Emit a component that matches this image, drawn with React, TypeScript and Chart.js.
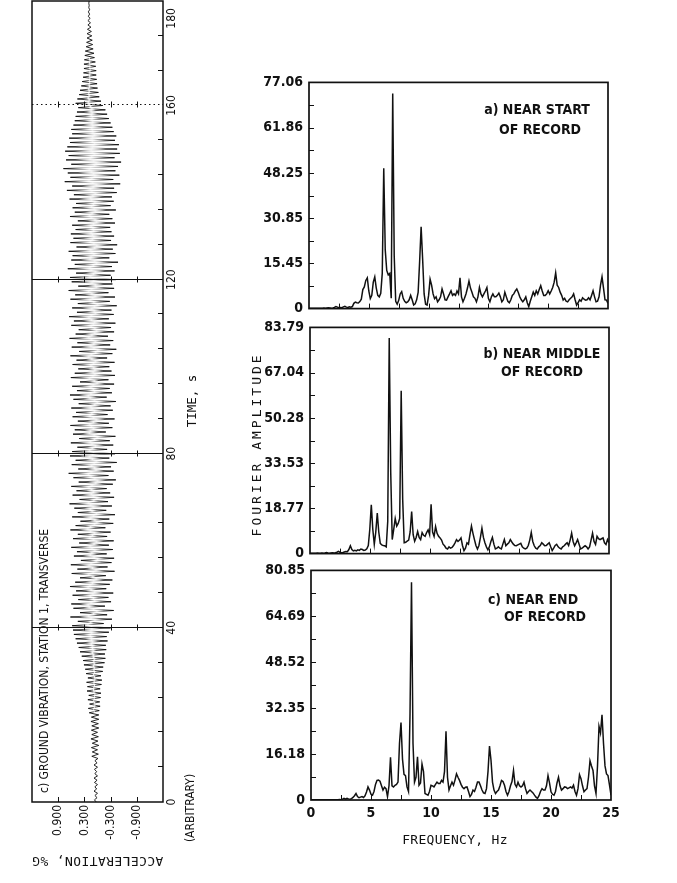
import React, { useEffect, useRef } from "react";
import { Chart, registerables } from "chart.js";

Chart.register(...registerables);

// ---------------- data ----------------
// Ground acceleration time history (%G), one sample every SAMPLE_DT seconds
const SAMPLE_DT = 0.5;
const ACCEL: number[] = [
  0.03, 0.07, 0.01, 0.06, 0.0, 0.08, 0.02, 0.06, 0.0, 0.07, 0.01, 0.08, 0.0, 0.06, 0.02, 0.07, 0.0, 0.08, 0.01, 0.06,
  -0.01, 0.13, -0.02, 0.12, 0.0, 0.14, -0.03, 0.12, -0.01, 0.15, -0.02, 0.13, 0.0, 0.14, -0.03, 0.13, -0.02, 0.15, -0.03, 0.14,
  -0.03, 0.19, -0.04, 0.21, -0.06, 0.18, -0.05, 0.22, -0.07, 0.2, -0.08, 0.24, -0.06, 0.23, -0.09, 0.25, -0.1, 0.22, -0.08, 0.26,
  -0.12, 0.28, -0.13, 0.31, -0.16, 0.33, -0.18, 0.36, -0.17, 0.4, -0.2, 0.43, -0.19, 0.47, -0.23, 0.5, -0.21, 0.54, -0.26, 0.56,
  -0.3, 0.58, -0.14, 0.45, -0.33, 0.62, -0.22, 0.4, -0.37, 0.55, -0.17, 0.6, -0.31, 0.44, -0.25, 0.57, -0.36, 0.49, -0.2, 0.63,
  -0.28, 0.51, -0.34, 0.4, -0.19, 0.59, -0.39, 0.46, -0.23, 0.61, -0.32, 0.38, -0.38, 0.54, -0.21, 0.47, -0.35, 0.6, -0.26, 0.42,
  -0.37, 0.56, -0.22, 0.45, -0.3, 0.62, -0.18, 0.5, -0.36, 0.39, -0.27, 0.58, -0.4, 0.45, -0.2, 0.53, -0.33, 0.64, -0.24, 0.41,
  -0.38, 0.57, -0.29, 0.48, -0.21, 0.6, -0.35, 0.43, -0.42, 0.55, -0.25, 0.66, -0.37, 0.44, -0.31, 0.59, -0.44, 0.5, -0.27, 0.63,
  -0.4, 0.58, -0.22, 0.46, -0.36, 0.61, -0.28, 0.42, -0.41, 0.56, -0.19, 0.52, -0.34, 0.62, -0.26, 0.45, -0.39, 0.57, -0.23, 0.49,
  -0.35, 0.6, -0.3, 0.43, -0.42, 0.55, -0.21, 0.63, -0.33, 0.47, -0.28, 0.58, -0.38, 0.4, -0.25, 0.61, -0.4, 0.52, -0.32, 0.44,
  -0.27, 0.57, -0.39, 0.48, -0.22, 0.62, -0.34, 0.42, -0.43, 0.59, -0.29, 0.46, -0.36, 0.64, -0.24, 0.5, -0.38, 0.43, -0.31, 0.6,
  -0.41, 0.54, -0.26, 0.65, -0.37, 0.47, -0.32, 0.58, -0.44, 0.45, -0.28, 0.62, -0.4, 0.51, -0.25, 0.66, -0.38, 0.44, -0.34, 0.59,
  -0.42, 0.63, -0.3, 0.49, -0.39, 0.68, -0.33, 0.52, -0.47, 0.6, -0.27, 0.57, -0.41, 0.66, -0.35, 0.48, -0.45, 0.62, -0.31, 0.55,
  -0.38, 0.61, -0.32, 0.5, -0.29, 0.58, -0.4, 0.45, -0.34, 0.63, -0.27, 0.52, -0.42, 0.57, -0.3, 0.49, -0.37, 0.64, -0.33, 0.54,
  -0.44, 0.7, -0.38, 0.58, -0.52, 0.75, -0.36, 0.62, -0.5, 0.68, -0.41, 0.78, -0.47, 0.6, -0.54, 0.72, -0.39, 0.66, -0.51, 0.74,
  -0.45, 0.69, -0.49, 0.63, -0.4, 0.65, -0.43, 0.58, -0.37, 0.6, -0.34, 0.55, -0.3, 0.52, -0.26, 0.5, -0.22, 0.47, -0.18, 0.44,
  -0.12, 0.5, -0.08, 0.46, -0.04, 0.42, -0.02, 0.4, 0.0, 0.37, 0.01, 0.35, 0.02, 0.33, 0.03, 0.32, 0.03, 0.31, 0.04, 0.31,
  0.05, 0.3, 0.07, 0.29, 0.08, 0.28, 0.1, 0.26, 0.11, 0.25, 0.12, 0.24, 0.13, 0.24, 0.14, 0.23, 0.15, 0.22, 0.16, 0.22,
  0.17, 0.21, 0.18, 0.21, 0.18, 0.2, 0.19, 0.2, 0.19,
];
const TIME_MAX = 184;
const TIME_LABEL_TICKS = [0, 40, 80, 120, 160, 180];
const TIME_MINOR_TICKS = [8, 16, 24, 32, 48, 56, 64, 72, 88, 96, 104, 112, 128, 136, 144, 152, 168, 176];
const TIME_GRID = [40, 80, 120, 160];
const ACCEL_TICKS = [-0.9, -0.3, 0.3, 0.9];
const ACCEL_LABELS = ["-0.900", "-0.300", "0.300", "0.900"];

// Fourier amplitude spectra, one value every FREQ_STEP Hz from 0 to 25 Hz
const FREQ_STEP = 0.125;
const SPEC_A: number[] = [
  0.1, 0.1, 0.1, 0.1, 0.1, 0.1, 0.1, 0.1,
  0.1, 0.1, 0.2, 0.1, 0.2, 0.3, 0.2, 0.1,
  0.2, 0.4, 0.7, 0.5, 0.3, 0.4, 0.3, 0.6,
  0.8, 0.5, 0.4, 0.6, 0.5, 0.7, 1.8, 2.2,
  2.0, 1.9, 2.4, 3.2, 6.5, 7.4, 9.6, 10.5,
  6.0, 3.4, 4.5, 9.0, 10.8, 7.0, 4.5, 4.0,
  5.2, 12.0, 47.8, 20.0, 13.0, 11.5, 12.0, 3.5,
  73.3, 18.0, 2.5, 1.5, 2.8, 5.0, 5.8, 3.5,
  2.5, 2.0, 2.3, 3.0, 4.5, 3.0, 1.2, 1.6,
  3.0, 5.5, 16.0, 27.9, 17.0, 5.0, 1.5, 1.2,
  4.5, 10.0, 8.0, 5.0, 3.4, 4.0, 2.3, 3.0,
  4.0, 6.7, 5.0, 3.0, 2.9, 4.0, 5.0, 6.1,
  4.5, 5.0, 4.5, 6.0, 5.0, 10.5, 4.0, 2.3,
  3.5, 5.0, 7.0, 9.4, 7.0, 5.6, 4.0, 3.5,
  2.3, 4.0, 7.2, 5.0, 4.0, 5.0, 6.0, 7.2,
  3.5, 2.3, 4.0, 5.0, 4.0, 4.0, 4.5, 5.3,
  4.0, 2.3, 3.0, 5.6, 4.0, 2.5, 2.0, 3.0,
  4.5, 5.0, 6.0, 6.7, 5.5, 4.0, 3.0, 2.3,
  3.0, 4.0, 2.0, 0.7, 2.5, 4.0, 5.6, 4.5,
  6.1, 5.0, 6.5, 7.8, 6.0, 4.5, 4.5, 5.0,
  6.1, 5.0, 6.0, 7.2, 9.0, 12.2, 8.0, 7.2,
  5.6, 4.5, 2.9, 3.5, 2.5, 2.3, 3.0, 3.5,
  4.0, 5.0, 3.0, 1.2, 2.0, 3.0, 2.5, 3.7,
  3.2, 2.9, 3.0, 3.7, 3.0, 4.5, 6.1, 4.0,
  2.3, 2.5, 4.0, 8.0, 10.8, 7.0, 3.0, 2.9,
  1.8,
];
const SPEC_B: number[] = [
  0.1, 0.1, 0.1, 0.1, 0.1, 0.2, 0.1, 0.1,
  0.2, 0.1, 0.2, 0.4, 0.2, 0.1, 0.2, 0.3,
  0.2, 0.3, 0.5, 0.8, 0.5, 0.3, 0.4, 0.6,
  0.8, 0.7, 1.5, 2.9, 1.5, 1.0, 1.2, 1.0,
  1.4, 1.2, 1.7, 1.5, 1.2, 1.3, 1.8, 3.0,
  9.0, 18.1, 9.0, 3.4, 8.0, 15.0, 8.0, 3.8,
  3.2, 3.0, 2.9, 2.5, 12.0, 79.9, 30.0, 5.2,
  9.0, 13.0, 10.2, 11.2, 13.0, 60.3, 20.0, 4.0,
  4.2, 4.6, 5.0, 8.0, 15.6, 7.0, 4.6, 6.0,
  8.2, 6.0, 5.2, 7.8, 6.8, 6.4, 7.8, 8.8,
  7.0, 18.3, 8.0, 6.4, 10.0, 7.5, 6.4, 5.8,
  5.0, 3.5, 2.9, 2.0, 1.7, 2.5, 2.0, 2.3,
  3.0, 4.0, 5.2, 4.5, 5.0, 5.8, 3.0, 1.1,
  2.0, 4.0, 3.5, 7.0, 10.2, 7.5, 5.2, 3.0,
  1.7, 3.0, 6.0, 9.4, 6.0, 4.0, 2.5, 1.4,
  2.5, 4.5, 6.0, 3.5, 1.7, 2.0, 2.5, 2.0,
  1.7, 3.5, 5.2, 2.9, 3.5, 4.0, 5.2, 4.3,
  3.5, 3.0, 2.9, 3.2, 3.5, 3.8, 2.5, 2.0,
  1.7, 2.0, 3.0, 5.0, 7.8, 4.5, 2.9, 2.0,
  1.7, 2.5, 3.0, 4.0, 3.5, 2.9, 3.0, 3.5,
  4.0, 2.5, 1.1, 2.0, 3.0, 3.4, 2.5, 2.0,
  1.7, 2.5, 2.9, 3.5, 4.0, 3.0, 5.0, 7.6,
  4.5, 2.9, 4.0, 5.2, 3.5, 1.7, 2.0, 2.5,
  2.9, 2.5, 1.7, 2.5, 5.0, 7.6, 4.5, 3.4,
  6.4, 5.5, 5.2, 5.5, 5.8, 4.0, 3.4, 5.2,
  4.0,
];
const SPEC_C: number[] = [
  0.1, 0.1, 0.1, 0.1, 0.1, 0.1, 0.1, 0.1,
  0.1, 0.1, 0.1, 0.1, 0.1, 0.1, 0.1, 0.1,
  0.1, 0.1, 0.1, 0.2, 0.1, 0.3, 0.6, 0.3,
  0.6, 0.4, 0.3, 0.5, 0.9, 1.5, 2.3, 1.2,
  0.8, 1.0, 1.2, 0.9, 1.5, 2.8, 4.6, 3.5,
  2.0, 1.7, 3.0, 5.5, 6.9, 7.0, 6.6, 5.0,
  3.5, 4.5, 4.0, 1.2, 5.0, 15.0, 5.0, 4.6,
  5.2, 5.5, 6.3, 20.0, 27.3, 14.4, 9.0, 8.6,
  4.6, 3.0, 30.0, 76.7, 20.0, 6.3, 8.0, 15.2,
  5.2, 6.0, 12.7, 10.0, 2.3, 2.0, 1.7, 3.0,
  5.2, 5.0, 4.6, 5.5, 6.3, 5.8, 5.8, 6.9,
  6.3, 10.0, 24.2, 8.0, 3.5, 5.0, 6.3, 5.2,
  7.0, 9.2, 8.0, 6.9, 5.5, 4.5, 4.0, 4.5,
  4.6, 3.0, 1.2, 2.0, 3.5, 3.0, 4.5, 6.3,
  6.3, 5.0, 3.5, 2.5, 2.3, 4.0, 10.0, 19.0,
  14.0, 6.3, 3.5, 2.3, 3.0, 3.5, 5.0, 6.9,
  6.5, 5.2, 3.0, 1.7, 3.0, 5.0, 6.5, 10.4,
  5.5, 4.6, 6.3, 5.0, 4.6, 5.0, 6.3, 4.0,
  2.3, 3.0, 3.5, 3.0, 2.5, 1.7, 1.0, 0.6,
  1.5, 3.0, 4.0, 3.5, 3.5, 5.0, 8.6, 6.0,
  2.9, 2.0, 1.7, 3.0, 6.0, 8.0, 5.0, 3.5,
  4.0, 4.6, 4.5, 4.0, 4.3, 4.6, 4.2, 5.2,
  3.0, 1.7, 4.0, 8.9, 7.5, 5.0, 2.9, 3.5,
  4.0, 8.0, 13.8, 12.0, 10.4, 5.0, 2.3, 12.0,
  25.9, 23.6, 30.0, 20.0, 12.0, 9.2, 8.6, 5.2,
  1.7,
];
const MAX_A = 77.06;
const MAX_B = 83.79;
const MAX_C = 80.85;
const AMP_LABELS_A = ["0", "15.45", "30.85", "48.25", "61.86", "77.06"];
const AMP_LABELS_B = ["0", "18.77", "33.53", "50.28", "67.04", "83.79"];
const AMP_LABELS_C = ["0", "16.18", "32.35", "48.52", "64.69", "80.85"];
const FREQ_MAX = 25;
const FREQ_LABEL_TICKS = [0, 5, 10, 15, 20, 25];
const FREQ_MINOR_TICKS = [2.5, 7.5, 12.5, 17.5, 22.5];

// ---------------- styling ----------------
const NARROW = "'Liberation Sans Narrow', 'DejaVu Sans Condensed', 'Arial Narrow', sans-serif";
const MONO = "'DejaVu Sans Mono', 'Liberation Mono', monospace";
const INK = "#111111";

type TextItem = {
  text: string;
  x: number;
  y: number;
  font: string;
  align?: CanvasTextAlign;
  rot?: number;
  spacing?: number;
};

const framePlugin = {
  id: "frame",
  afterDatasetsDraw(chart: any, _args: any, o: any) {
    const { ctx, chartArea: a, scales } = chart;
    const xs = scales.x;
    const ys = scales.y;
    ctx.save();
    ctx.strokeStyle = INK;
    ctx.fillStyle = INK;
    (o.xGrid || []).forEach((g: any) => {
      const p = Math.round(xs.getPixelForValue(g.v)) + 0.5;
      ctx.lineWidth = 1;
      ctx.setLineDash(g.dash || []);
      ctx.beginPath();
      ctx.moveTo(p, a.top);
      ctx.lineTo(p, a.bottom);
      ctx.stroke();
      ctx.setLineDash([]);
      (o.gridCross || []).forEach((c: number) => {
        const q = Math.round(ys.getPixelForValue(c)) + 0.5;
        ctx.beginPath();
        ctx.moveTo(p - 3, q);
        ctx.lineTo(p + 3, q);
        ctx.stroke();
      });
    });
    const len = o.tickLen || 5;
    ctx.lineWidth = 1;
    (o.xTicks || []).forEach((v: number) => {
      const p = Math.round(xs.getPixelForValue(v)) + 0.5;
      ctx.beginPath();
      ctx.moveTo(p, a.bottom);
      ctx.lineTo(p, a.bottom - len);
      ctx.stroke();
    });
    (o.yTicks || []).forEach((v: number) => {
      const p = Math.round(ys.getPixelForValue(v)) + 0.5;
      ctx.beginPath();
      ctx.moveTo(a.left, p);
      ctx.lineTo(a.left + len, p);
      ctx.stroke();
    });
    ctx.lineWidth = o.frameWidth || 1.5;
    ctx.strokeRect(a.left, a.top, a.right - a.left, a.bottom - a.top);
    (o.texts || []).forEach((t: TextItem) => {
      ctx.save();
      ctx.font = t.font;
      ctx.textAlign = t.align || "center";
      ctx.textBaseline = "middle";
      if (t.spacing) (ctx as any).letterSpacing = t.spacing + "px";
      ctx.translate(a.left + t.x, a.top + t.y);
      if (t.rot) ctx.rotate((t.rot * Math.PI) / 180);
      ctx.fillText(t.text, 0, 0);
      ctx.restore();
    });
    ctx.restore();
  },
};

// Each swing of the trace is dark near its turning points and faint across the middle,
// like the fast pen strokes of the original recording.
function swingColor(sc: any) {
  const c = sc.chart.ctx as CanvasRenderingContext2D;
  const { p0, p1 } = sc;
  const L = Math.hypot(p1.x - p0.x, p1.y - p0.y);
  if (!isFinite(L) || L < 10) return "rgba(15,15,15,0.9)";
  const g = c.createLinearGradient(p0.x, p0.y, p1.x, p1.y);
  const edge = Math.min(0.42, 10 / L);
  g.addColorStop(0, "rgba(15,15,15,0.95)");
  g.addColorStop(edge, "rgba(15,15,15,0.7)");
  g.addColorStop(0.5, "rgba(15,15,15,0.1)");
  g.addColorStop(1 - edge, "rgba(15,15,15,0.7)");
  g.addColorStop(1, "rgba(15,15,15,0.95)");
  return g;
}

// ---------------- left panel: time history (drawn landscape, rotated) ----------------
function TimeHistory() {
  const ref = useRef<HTMLCanvasElement | null>(null);
  useEffect(() => {
    if (!ref.current) return;
    const chart = new Chart(ref.current, {
      type: "line",
      data: {
        datasets: [
          {
            data: ACCEL.map((v, i) => ({ x: i * SAMPLE_DT, y: v })),
            borderColor: "rgba(15,15,15,0.9)",
            borderWidth: 1,
            pointRadius: 0,
            tension: 0,
            segment: { borderColor: swingColor },
          },
        ],
      },
      options: {
        animation: false,
        responsive: false,
        maintainAspectRatio: false,
        layout: { autoPadding: false, padding: { left: 12, right: 18, top: 32, bottom: 10 } } as any,
        plugins: {
          legend: { display: false },
          tooltip: { enabled: false },
          frame: {
            xGrid: [
              { v: TIME_GRID[0] },
              { v: TIME_GRID[1] },
              { v: TIME_GRID[2] },
              { v: TIME_GRID[3], dash: [1.5, 3] },
            ],
            gridCross: ACCEL_TICKS,
            xTicks: TIME_MINOR_TICKS,
            yTicks: ACCEL_TICKS,
            tickLen: 5,
            frameWidth: 1.5,
            texts: [
              { text: "c) GROUND VIBRATION, STATION 1, TRANSVERSE", x: 9, y: 13, font: `12px ${NARROW}`, align: "left" },
              { text: "(ARBITRARY)", x: -6, y: 159, font: `12px ${NARROW}` },
              { text: "TIME, s", x: 401, y: 161, font: `12.5px ${MONO}` },
              { text: "ACCELERATION, %G", x: -58, y: 65.5, font: `13px ${MONO}`, rot: -90, spacing: 0.4 },
            ],
          },
        } as any,
        scales: {
          x: {
            type: "linear",
            min: 0,
            max: TIME_MAX,
            afterBuildTicks: (s: any) => {
              s.ticks = TIME_LABEL_TICKS.map((v) => ({ value: v }));
            },
            afterFit: (s: any) => {
              s.height = 42;
            },
            grid: { display: false, drawTicks: false },
            border: { display: false },
            ticks: {
              padding: 2,
              maxRotation: 0,
              autoSkip: false,
              color: INK,
              font: { family: NARROW, size: 12 },
              callback: (v: any) => String(v),
            },
          },
          y: {
            type: "linear",
            min: -1.5,
            max: 1.5,
            afterBuildTicks: (s: any) => {
              s.ticks = ACCEL_TICKS.map((v) => ({ value: v }));
            },
            afterFit: (s: any) => {
              s.width = 69;
            },
            grid: { display: false, drawTicks: false },
            border: { display: false },
            ticks: {
              padding: 3,
              autoSkip: false,
              color: INK,
              font: { family: NARROW, size: 12 },
              callback: (v: any) => ACCEL_LABELS[ACCEL_TICKS.indexOf(v)],
            },
          },
        },
      } as any,
      plugins: [framePlugin as any],
    });
    return () => chart.destroy();
  }, []);
  return (
    <div
      style={{
        position: "absolute",
        left: 0,
        top: 0,
        width: 900,
        height: 215,
        transformOrigin: "0 0",
        transform: "translateY(883px) rotate(-90deg)",
      }}
    >
      <canvas ref={ref} width={900} height={215} style={{ width: 900, height: 215, display: "block" }} />
    </div>
  );
}

// ---------------- right panels: spectra ----------------
type SpecProps = {
  left: number;
  top: number;
  width: number;
  height: number;
  values: number[];
  max: number;
  labels: string[];
  yWidth: number;
  padRight: number;
  padBottom: number;
  xHeight: number;
  showX: boolean;
  texts: TextItem[];
};

function Spectrum(p: SpecProps) {
  const ref = useRef<HTMLCanvasElement | null>(null);
  useEffect(() => {
    if (!ref.current) return;
    const majors = p.labels.map((_, i) => (p.max * i) / (p.labels.length - 1));
    const minors: number[] = [];
    for (let i = 0; i < majors.length - 1; i++) minors.push((majors[i] + majors[i + 1]) / 2);
    const chart = new Chart(ref.current, {
      type: "line",
      data: {
        datasets: [
          {
            data: p.values.map((v, i) => ({ x: i * FREQ_STEP, y: v })),
            borderColor: INK,
            borderWidth: 1.5,
            pointRadius: 0,
            tension: 0,
          },
        ],
      },
      options: {
        animation: false,
        responsive: false,
        maintainAspectRatio: false,
        layout: { autoPadding: false, padding: { left: 0, right: p.padRight, top: 10, bottom: p.padBottom } } as any,
        plugins: {
          legend: { display: false },
          tooltip: { enabled: false },
          frame: {
            xTicks: [...FREQ_LABEL_TICKS.slice(1, -1), ...FREQ_MINOR_TICKS],
            yTicks: [...majors.slice(1, -1), ...minors],
            tickLen: 5,
            frameWidth: 1.7,
            texts: p.texts,
          },
        } as any,
        scales: {
          x: {
            type: "linear",
            min: 0,
            max: FREQ_MAX,
            afterBuildTicks: (s: any) => {
              s.ticks = FREQ_LABEL_TICKS.map((v) => ({ value: v }));
            },
            afterFit: (s: any) => {
              s.height = p.xHeight;
            },
            grid: { display: false, drawTicks: false },
            border: { display: false },
            ticks: {
              display: p.showX,
              padding: 5,
              maxRotation: 0,
              autoSkip: false,
              color: INK,
              font: { family: NARROW, size: 14, weight: "bold" },
              callback: (v: any) => String(v),
            },
          },
          y: {
            type: "linear",
            min: 0,
            max: p.max,
            afterBuildTicks: (s: any) => {
              s.ticks = majors.map((v) => ({ value: v }));
            },
            afterFit: (s: any) => {
              s.width = p.yWidth;
            },
            grid: { display: false, drawTicks: false },
            border: { display: false },
            ticks: {
              padding: 6,
              autoSkip: false,
              color: INK,
              font: { family: NARROW, size: 14, weight: "bold" },
              callback: (_v: any, i: number) => p.labels[i],
            },
          },
        },
      } as any,
      plugins: [framePlugin as any],
    });
    return () => chart.destroy();
  }, []);
  return (
    <canvas
      ref={ref}
      width={p.width}
      height={p.height}
      style={{ position: "absolute", left: p.left, top: p.top, width: p.width, height: p.height, display: "block" }}
    />
  );
}

const TITLE_FONT = `bold 14px ${NARROW}`;

export default function App() {
  return (
    <div
      style={{
        position: "absolute",
        left: 0,
        top: 0,
        width: 677,
        height: 883,
        overflow: "hidden",
        background: "#ffffff",
      }}
    >
      <TimeHistory />
      <Spectrum
        left={255}
        top={68}
        width={365}
        height={255}
        values={SPEC_A}
        max={MAX_A}
        labels={AMP_LABELS_A}
        yWidth={54}
        padRight={12}
        padBottom={1}
        xHeight={10}
        showX={false}
        texts={[
          { text: "a) NEAR START", x: 228, y: 28, font: TITLE_FONT },
          { text: "OF RECORD", x: 231, y: 48, font: TITLE_FONT },
        ]}
      />
      <Spectrum
        left={245}
        top={313}
        width={375}
        height={255}
        values={SPEC_B}
        max={MAX_B}
        labels={AMP_LABELS_B}
        yWidth={65}
        padRight={11}
        padBottom={1}
        xHeight={9}
        showX={false}
        texts={[
          { text: "b) NEAR MIDDLE", x: 232, y: 27, font: TITLE_FONT },
          { text: "OF RECORD", x: 232, y: 45, font: TITLE_FONT },
          { text: "FOURIER AMPLITUDE", x: -52, y: 117, font: `13px ${MONO}`, rot: -90, spacing: 3 },
        ]}
      />
      <Spectrum
        left={255}
        top={556}
        width={370}
        height={300}
        values={SPEC_C}
        max={MAX_C}
        labels={AMP_LABELS_C}
        yWidth={56}
        padRight={14}
        padBottom={6}
        xHeight={50}
        showX={true}
        texts={[
          { text: "c) NEAR END", x: 222, y: 30, font: TITLE_FONT },
          { text: "OF RECORD", x: 234, y: 47, font: TITLE_FONT },
          { text: "FREQUENCY, Hz", x: 144, y: 270, font: `13px ${MONO}`, spacing: 0.3 },
        ]}
      />
    </div>
  );
}
